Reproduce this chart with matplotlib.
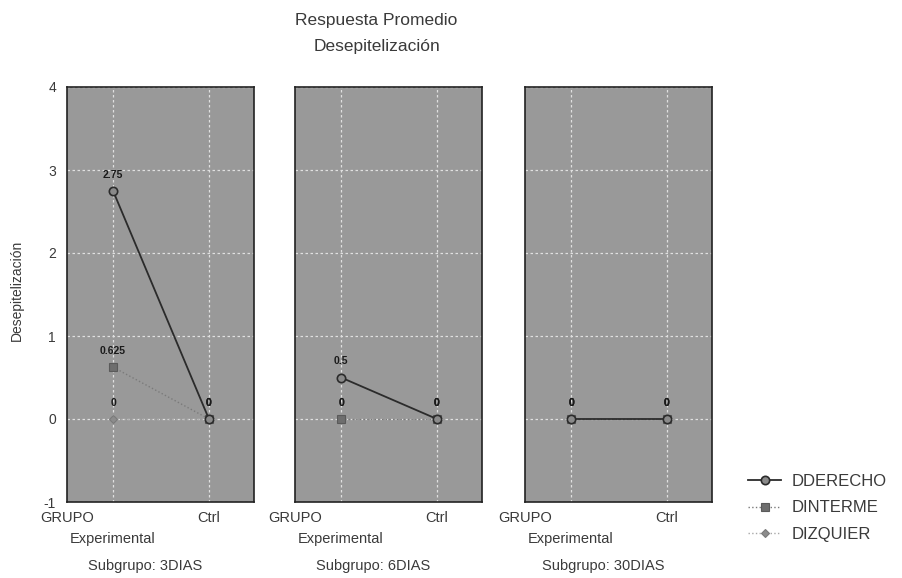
import matplotlib
matplotlib.use("Agg")
import matplotlib.pyplot as plt

plt.rcParams['font.family'] = ['Liberation Sans', 'DejaVu Sans']

subgroups = ["3DIAS", "6DIAS", "30DIAS"]
groups = ["Experimental", "Ctrl"]
series_names = ["DDERECHO", "DINTERME", "DIZQUIER"]
dderecho = [[2.75, 0.0], [0.5, 0.0], [0.0, 0.0]]
dinterme = [[0.625, 0.0], [0.0, 0.0], [0.0, 0.0]]
dizquier = [[0.0, 0.0], [0.0, 0.0], [0.0, 0.0]]
y_ticks = [-1, 0, 1, 2, 3, 4]

series_values = [dderecho, dinterme, dizquier]
styles = [
    dict(color="#2b2b2b", linestyle="-", linewidth=1.3, marker="o", markersize=6,
         markerfacecolor="#8a8a8a", markeredgecolor="#2b2b2b", markeredgewidth=1.2),
    dict(color="#7a7a7a", linestyle=":", linewidth=1.0, marker="s", markersize=5.5,
         markerfacecolor="#6e6e6e", markeredgecolor="#5a5a5a", markeredgewidth=0.8),
    dict(color="#a8a8a8", linestyle=":", linewidth=1.0, marker="D", markersize=4.5,
         markerfacecolor="#8c8c8c", markeredgecolor="#7a7a7a", markeredgewidth=0.8),
]

W, H = 902, 578
fig = plt.figure(figsize=(W / 100, H / 100), dpi=100)

lefts = [67, 295, 525]
ax_w = 187
ax_top, ax_bot = 87, 502
text_col = "#3a3a3a"
x = [1, 2]
lab_fs = 10.5

axes = []
for i, sg in enumerate(subgroups):
    ax = fig.add_axes([lefts[i] / W, (H - ax_bot) / H, ax_w / W, (ax_bot - ax_top) / H])
    ax.set_facecolor("#999999")
    ax.set_xlim(0.52, 2.47)
    ax.set_ylim(-1, 4)
    ax.set_yticks(y_ticks)
    ax.set_xticks(x)
    ax.grid(True, color="#e0e0e0", linestyle=(0, (2, 2)), linewidth=0.9)
    ax.set_axisbelow(True)
    for sp in ax.spines.values():
        sp.set_color("#222222")
        sp.set_linewidth(1.2)
        sp.set_linestyle((0, (1, 1)))
    ax.tick_params(length=0, labelsize=10, colors=text_col)
    if i == 0:
        ax.set_yticklabels([str(t) for t in y_ticks])
        ax.tick_params(axis="y", pad=8)
    else:
        ax.set_yticklabels([])
    ax.set_xticklabels(["", ""])
    # draw series back to front
    for k in [2, 1, 0]:
        vals = series_values[k][i]
        ax.plot(x, vals, label=series_names[k], zorder=3 + (2 - k), **styles[k])
        for xx, vv in zip(x, vals):
            ax.annotate(f"{vv:g}", (xx, vv), xytext=(0, 8), textcoords="offset points",
                        ha="center", va="bottom", fontsize=7.5, fontweight="bold",
                        color="#1a1a1a", zorder=10)
    # category labels
    tr = ax.get_xaxis_transform()
    ax.text(0.52, -0.022, "GRUPO", transform=tr, ha="center", va="top",
            fontsize=lab_fs, color=text_col)
    ax.text(2, -0.022, "Ctrl", transform=tr, ha="center", va="top",
            fontsize=lab_fs, color=text_col)
    ax.text(1, -0.072, "Experimental", transform=tr, ha="center", va="top",
            fontsize=lab_fs, color=text_col)
    ax.text(0.42, -0.137, f"Subgrupo: {sg}", transform=ax.transAxes, ha="center", va="top",
            fontsize=lab_fs, color=text_col)
    axes.append(ax)

axes[0].set_ylabel("Desepitelización", fontsize=10, color=text_col)
axes[0].yaxis.set_label_coords((24 - 67) / ax_w, (502 - 290) / (ax_bot - ax_top))

fig.text(376 / W, 1 - 21 / H, "Respuesta Promedio", ha="center", va="center",
         fontsize=12.5, color=text_col)
fig.text(377 / W, 1 - 47 / H, "Desepitelización", ha="center", va="center",
         fontsize=12.5, color=text_col)

handles, labels = axes[0].get_legend_handles_labels()
order = [labels.index(n) for n in series_names]
fig.legend([handles[j] for j in order], [labels[j] for j in order],
           loc="center left", bbox_to_anchor=(748 / W, 1 - 508 / H),
           frameon=False, fontsize=12, labelcolor=text_col,
           borderpad=0, borderaxespad=0,
           handlelength=2.0, handletextpad=0.6, labelspacing=0.7)

fig.savefig("out.png", dpi=100, facecolor="white")
